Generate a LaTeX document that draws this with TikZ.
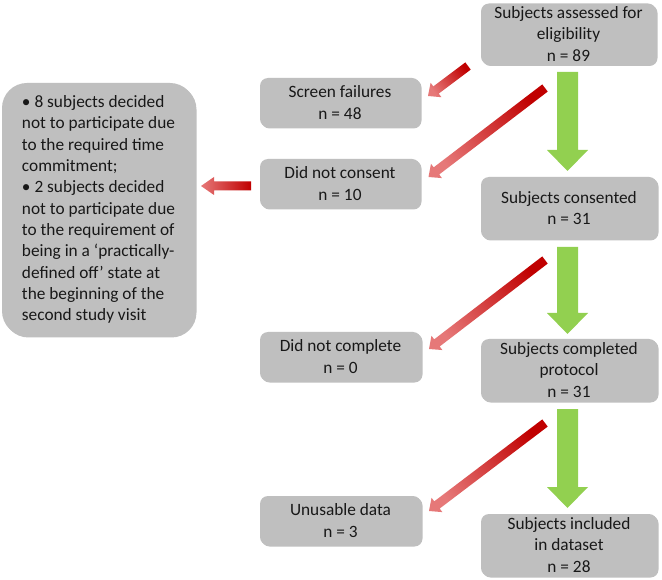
\documentclass[tikz,border=0pt]{standalone}
\usepackage{fontspec}
\setmainfont{Carlito}
\usetikzlibrary{calc,shadows}
\definecolor{boxgray}{RGB}{191,191,191}
\definecolor{txt}{RGB}{24,24,24}
\definecolor{grn}{RGB}{146,208,80}
\definecolor{reddark}{RGB}{192,0,0}
\definecolor{redlight}{RGB}{230,120,120}
% #1 tail, #2 tip, #3 shaft half width, #4 head half width, #5 head length, #6 style
\newcommand{\fatarrow}[6]{%
  \coordinate (fa-base) at ($(#2)!#5!(#1)$);
  \path[#6] ($(#1)!#3!90:(#2)$) -- ($(fa-base)!#3!90:(#2)$) -- ($(fa-base)!#4!90:(#2)$)
    -- (#2) -- ($(fa-base)!#4!-90:(#2)$) -- ($(fa-base)!#3!-90:(#2)$) -- ($(#1)!#3!-90:(#2)$) -- cycle;
}
\begin{document}
\begin{tikzpicture}[x=1pt,y=-1pt,
  box/.style={rectangle, rounded corners=8pt, fill=boxgray, text=txt, align=center,
    font=\fontsize{17.3pt}{21.3pt}\selectfont, inner sep=0pt,
    drop shadow={shadow xshift=1.5pt, shadow yshift=-1.5pt, opacity=0.25, fill=black}},
  greenarrow/.style={fill=grn},
  redarrow/.style={top color=redlight, bottom color=reddark, shading angle=#1}]
\fill[white] (0,0) rectangle (662,580);
\useasboundingbox (0,0) rectangle (662,580);

% main column
\node[box, minimum width=175pt, minimum height=61pt] (assessed) at (568.5,34)
  {Subjects assessed for\\eligibility\\n = 89};
\node[box, minimum width=176pt, minimum height=62pt] (consented) at (569,208)
  {Subjects consented\\n = 31};
\node[box, minimum width=176pt, minimum height=62pt] (completed) at (569,370)
  {Subjects completed\\protocol\\n = 31};
\node[box, minimum width=176pt, minimum height=62pt] (included) at (569,545)
  {Subjects included\\in dataset\\n = 28};

% side column
\node[box, minimum width=160pt, minimum height=49pt] (screen) at (340,102.5)
  {Screen failures\\n = 48};
\node[box, minimum width=160pt, minimum height=49pt] (noconsent) at (340,183.5)
  {Did not consent\\n = 10};
\node[box, minimum width=161pt, minimum height=49pt] (nocomplete) at (340.5,356.5)
  {Did not complete\\n = 0};
\node[box, minimum width=161pt, minimum height=49pt] (unusable) at (340.5,520.5)
  {Unusable data\\n = 3};

% reasons box
\node[box, rounded corners=25pt, align=left, minimum width=193pt, minimum height=253pt] (reasons) at (98.5,209.5)
  {• 8 subjects decided\\not to participate due\\to the required time\\commitment;\\• 2 subjects decided\\not to participate due\\to the requirement of\\being in a ‘practically-\\defined off’ state at\\the beginning of the\\second study visit};

% green arrows
\coordinate (g1a) at (567.5,72);  \coordinate (g1b) at (567.5,171);
\coordinate (g2a) at (567.5,247); \coordinate (g2b) at (567.5,334);
\coordinate (g3a) at (567.5,409); \coordinate (g3b) at (567.5,508);
\fatarrow{g1a}{g1b}{10.5pt}{20.5pt}{21pt}{greenarrow}
\fatarrow{g2a}{g2b}{10.5pt}{20.5pt}{21pt}{greenarrow}
\fatarrow{g3a}{g3b}{10.5pt}{20.5pt}{21pt}{greenarrow}

% red arrows
\coordinate (r1a) at (468,66);  \coordinate (r1b) at (428,96);
\coordinate (r2a) at (545,88);  \coordinate (r2b) at (428.5,177);
\coordinate (r3a) at (545,260); \coordinate (r3b) at (429,349);
\coordinate (r4a) at (545,423); \coordinate (r4b) at (429,511);
\coordinate (rla) at (251,186); \coordinate (rlb) at (201,186);
\fatarrow{r1a}{r1b}{4.5pt}{9pt}{10pt}{redarrow=126.9}
\fatarrow{r2a}{r2b}{4.5pt}{9pt}{10pt}{redarrow=127.2}
\fatarrow{r3a}{r3b}{4.5pt}{9pt}{10pt}{redarrow=127.5}
\fatarrow{r4a}{r4b}{4.5pt}{9pt}{10pt}{redarrow=127.2}
\fatarrow{rla}{rlb}{4.5pt}{9pt}{13pt}{redarrow=90}
\end{tikzpicture}
\end{document}
